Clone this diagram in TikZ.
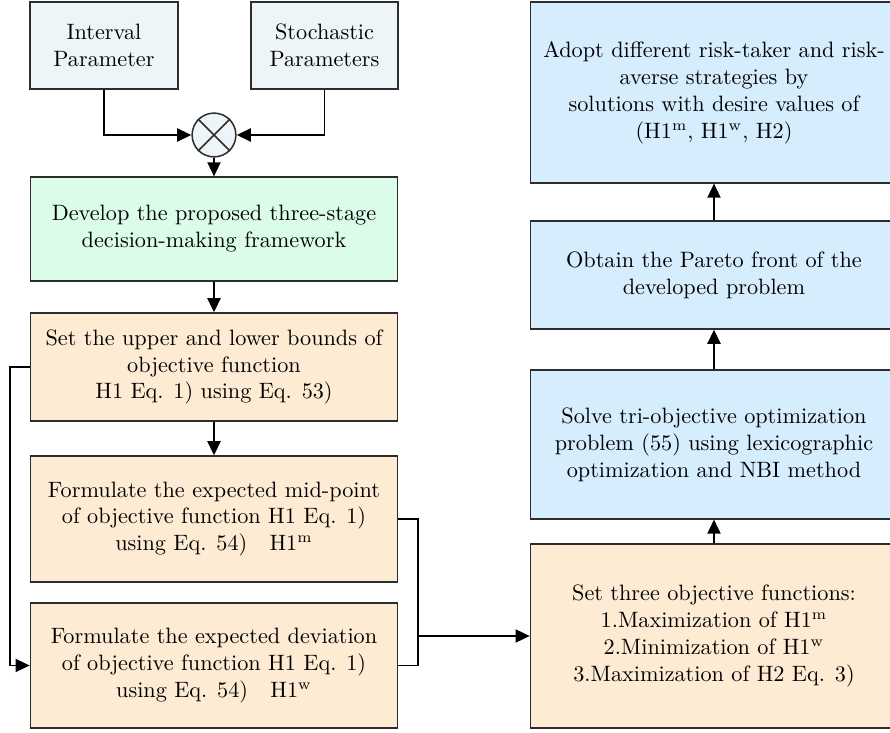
\documentclass[tikz,border=0pt]{standalone}
\usepackage{amsmath,amssymb}
\usetikzlibrary{arrows.meta,positioning}
\definecolor{parfill}{RGB}{238,245,249}
\definecolor{devfill}{RGB}{218,252,232}
\definecolor{orgfill}{RGB}{253,235,212}
\definecolor{blufill}{RGB}{214,237,253}
\definecolor{edge}{RGB}{45,45,45}
\newcommand{\Hm}{H1$^{\mathrm{m}}$}
\newcommand{\Hw}{H1$^{\mathrm{w}}$}

\begin{document}
\begin{tikzpicture}[x=0.0162cm,y=-0.0162cm,every node/.style={font=\fontsize{10.25}{12.4}\selectfont},
  box/.style={draw=edge,line width=.7pt,align=center,inner sep=2pt},
  parbox/.style={box,fill=parfill,minimum width=68pt,minimum height=40pt},
  lbox/.style={box,minimum width=169.3pt},
  arr/.style={line width=.9pt,-{Triangle[length=6.5pt,width=6pt]}},
  ln/.style={line width=.9pt}]
\path[use as bounding box,clip](0,0)rectangle(890,733);
% inputs
\node[parbox](ip)at(104,45.5){Interval\\Parameter};
\node[parbox](sp)at(324.5,45.5){Stochastic\\Parameters};
\node[draw=edge,line width=.7pt,fill=parfill,circle,minimum size=20.2pt,inner sep=0pt](mix)at(214,135){};
\draw[line width=.7pt,edge](mix.45)--(mix.225)(mix.135)--(mix.315);
% left column
\node[lbox,fill=devfill,minimum height=47.8pt](dev)at(214,229){Develop the proposed three-stage\\decision-making framework};
\node[lbox,fill=orgfill,minimum height=49.7pt](bnd)at(214,367){Set the upper and lower bounds of\\objective function\\H1 Eq. 1) using Eq. 53)};
\node[lbox,fill=orgfill,minimum height=58pt](mid)at(214,519){Formulate the expected mid-point\\of objective function H1 Eq. 1)\\using Eq. 54)\quad\Hm};
\node[lbox,fill=orgfill,minimum height=57.5pt](dvt)at(214,665.5){Formulate the expected deviation\\of objective function H1 Eq. 1)\\using Eq. 54)\quad\Hw};
% right column
\node[lbox,fill=blufill,minimum height=83.3pt](adopt)at(714,92.5){Adopt different risk-taker and risk-\\averse strategies by\hspace{36pt}\\solutions with desire values of\\(\Hm, \Hw, H2)};
\node[lbox,fill=blufill,minimum height=49.7pt](pareto)at(714,275){Obtain the Pareto front of the\\developed problem};
\node[lbox,fill=blufill,minimum height=68.5pt](solve)at(714,444.5){Solve tri-objective optimization\\problem (55) using lexicographic\\optimization and NBI method};
\node[lbox,fill=orgfill,minimum height=84.6pt](obj)at(714,636){Set three objective functions:\\1.Maximization of \Hm\\2.Minimization of \Hw\\3.Maximization of H2 Eq. 3)};
\coordinate(jn)at(418,636);
% connectors
\draw[arr](ip.south)|-(mix.west);\draw[arr](sp.south)|-(mix.east);
\draw[arr](mix)--(dev);\draw[arr](dev)--(bnd);\draw[arr](bnd)--(mid);
\draw[arr](bnd.west)--++(-20,0)|-(dvt.west);
\draw[ln](mid.east)-|(jn)|-(dvt.east);\draw[arr](jn)--(obj.west);
\draw[arr](obj)--(solve);\draw[arr](solve)--(pareto);\draw[arr](pareto)--(adopt);
\end{tikzpicture}
\end{document}
